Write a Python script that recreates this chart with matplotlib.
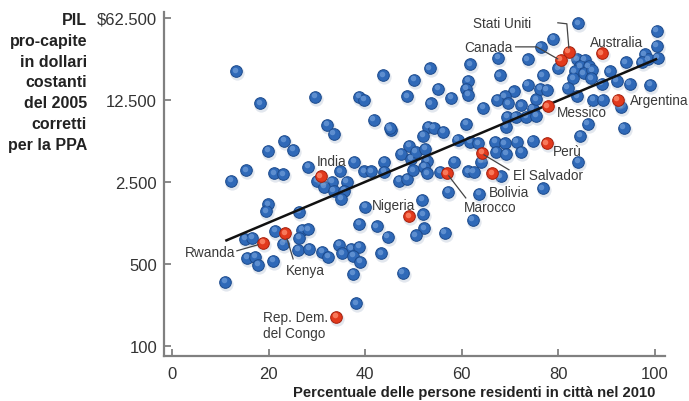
import matplotlib.pyplot as plt
from matplotlib.ticker import FixedLocator, NullLocator
from matplotlib.transforms import offset_copy

plt.rcParams['font.family'] = ['Liberation Sans', 'DejaVu Sans']

# urban share (%) and GDP per capita (2005 PPP $) for the unlabelled countries
blue_urban = [
    13.3, 18.2, 29.6, 32.1, 33.5, 23.2, 25.1, 19.9, 28.2, 15.3,
    21.1, 23.0, 12.2, 34.8, 30.0, 33.1, 36.2, 31.5, 33.5, 35.6,
    35.0, 37.7, 39.8, 41.2, 43.9, 43.9, 45.3, 49.1, 47.4, 49.5,
    50.5, 47.0, 48.7, 43.7, 50.1, 38.7, 39.8, 48.7, 41.8, 45.1,
    53.4, 61.7, 67.5, 73.7, 76.4, 78.9, 84.1, 100.4, 61.3, 60.9,
    61.3, 55.1, 57.8, 53.6, 67.9, 76.8, 64.4, 73.7, 70.8, 68.9,
    67.3, 69.6, 72.3, 74.7, 75.4, 76.2, 69.4, 71.2, 73.3, 75.4,
    69.2, 60.9, 53.0, 54.2, 56.1, 52.0, 59.2, 61.7, 63.4, 66.9,
    68.9, 71.4, 74.7, 52.4, 67.1, 69.2, 72.3, 64.0, 84.1, 58.4,
    52.8, 49.9, 52.2, 52.8, 55.5, 61.3, 62.5, 68.1, 57.2, 63.6,
    76.8, 51.8, 52.0, 52.2, 50.5, 56.5, 62.3,
    40.0, 38.7, 42.4, 44.7, 34.6, 37.1, 38.7, 35.2, 37.5, 38.9,
    43.3, 37.5, 47.8, 38.1, 26.9, 28.2, 26.3, 26.1, 28.4, 31.1, 32.3, 26.3,
    19.9, 19.5, 21.3, 15.1, 16.6, 23.0, 15.5, 17.2, 17.8, 20.9, 11.0,
    83.9, 85.5, 84.5, 86.3, 83.4, 85.3, 87.0, 86.8, 83.1, 80.0,
    94.0, 90.7, 92.1, 89.0, 94.8, 99.0, 77.6, 82.0, 83.9, 87.2,
    89.2, 93.0, 86.1, 93.6, 84.5, 100.4, 97.9, 98.6, 100.6, 97.3,
]
blue_gdp = [
    22000, 11700, 13300, 7650, 6410, 5590, 4690, 4600, 3360, 3160,
    2980, 2920, 2550, 3100, 2550, 2500, 2500, 2270, 2100, 2100,
    1790, 3710, 3100, 3100, 3710, 3040, 6940, 5070, 4340, 3930,
    4510, 2550, 2650, 20400, 18500, 13300, 12500, 13500, 8450, 7220,
    23400, 25300, 28500, 27900, 35400, 41400, 56600, 48400, 18200, 15500,
    13800, 15500, 13000, 11700, 20400, 20400, 10700, 16800, 14900, 13500,
    12500, 11700, 11300, 10500, 12700, 15500, 8950, 8950, 8950, 9130,
    7360, 7810, 7360, 7220, 6670, 6170, 5700, 5480, 5370, 5480,
    5370, 5480, 5590, 4780, 4510, 4340, 4510, 3710, 3710, 3710,
    3780, 3160, 3360, 2980, 3040, 3100, 3040, 2810, 2060, 1980,
    2220, 1760, 1330, 1010, 880, 920, 1190,
    1530, 1100, 1050, 850, 726, 671, 700, 620, 585, 520,
    620, 411, 419, 232, 974, 993, 833, 658, 671, 633, 574, 1390,
    1620, 1410, 955, 817, 833, 741, 563, 574, 490, 530, 351,
    27900, 27400, 24300, 24300, 22000, 21200, 22500, 19200, 19200, 23400,
    26300, 22000, 18200, 17100, 17100, 16800, 15200, 15900, 13500, 12500,
    12500, 10900, 7810, 7220, 6170, 36100, 30800, 27900, 28500, 26300,
]

countries = ['Stati Uniti', 'Canada', 'Australia', 'Argentina', 'Messico', 'Perù',
             'El Salvador', 'Bolivia', 'Marocco', 'India', 'Nigeria', 'Kenya',
             'Rwanda', 'Rep. Dem.\ndel Congo']
red_urban = [82.2, 80.5, 89.0, 92.3, 77.8, 77.6, 64.2, 66.3, 56.9, 30.8, 49.1, 23.4, 18.8, 34.0]
red_gdp = [32100, 27400, 31400, 12500, 11100, 5370, 4420, 2980, 2980, 2810, 1280, 918, 756, 177]

# fitted trend (log-linear)
trend_urban = [11, 100.5]
trend_gdp = [785, 28000]

yticks = [100, 500, 2500, 12500, 62500]
ytick_labels = ['100', '500', '2.500', '12.500', '$62.500']
xticks = [0, 20, 40, 60, 80, 100]

# label offset in pixels, alignment, leader line vertices (pixels from the dot)
placement = {
    'Stati Uniti': (-38, 29, 'right', [(-11, 29), (-2, 28), (0, 4)]),
    'Canada': (-48, 13, 'right', [(-45, 13), (-24, 13), (-3, 1)]),
    'Australia': (-12, 11, 'left', None),
    'Argentina': (12, 0, 'left', None),
    'Messico': (9, -6, 'left', None),
    'Perù': (6, -8, 'left', None),
    'El Salvador': (31, -22, 'left', [(2, -2), (27, -17)]),
    'Bolivia': (-3, -19, 'left', None),
    'Marocco': (17, -34, 'left', [(2, -3), (19, -25)]),
    'India': (-4, 15, 'left', None),
    'Nigeria': (-37, 11, 'left', None),
    'Kenya': (1, -37, 'left', [(2, -6), (8, -26)]),
    'Rwanda': (-28, -9, 'right', [(-26, -8), (-5, -2)]),
    'Rep. Dem.\ndel Congo': (-73, -8, 'left', None),
}

fig = plt.figure(figsize=(6.89, 4.02), dpi=100)
ax = fig.add_axes([0.238, 0.112, 0.727, 0.856])
ax.set_yscale('log')
ax.set_xlim(-1.7, 102.1)
ax.set_ylim(82, 70300)


def spheres(x, y, face, edge, light, z):
    shadow = offset_copy(ax.transData, fig=fig, x=1, y=-2, units='dots')
    ax.scatter(x, y, s=105, color='#9fb0c8', alpha=0.3, lw=0, transform=shadow, zorder=z)
    ax.scatter(x, y, s=70, facecolor=face, edgecolor=edge, lw=0.7, zorder=z + 0.1)
    shine = offset_copy(ax.transData, fig=fig, x=-1.4, y=1.4, units='dots')
    ax.scatter(x, y, s=16, color=light, lw=0, alpha=0.75, transform=shine, zorder=z + 0.2)


spheres(blue_urban, blue_gdp, '#2f69b8', '#1c4a8c', '#6d9bd8', 2)
ax.plot(trend_urban, trend_gdp, color='#111111', lw=1.8, zorder=3, solid_capstyle='butt')
spheres(red_urban, red_gdp, '#e2391c', '#a51f0c', '#ff8f70', 4)

inv = ax.transData.inverted()
for name, x, y in zip(countries, red_urban, red_gdp):
    dx, dy, ha, pts = placement[name]
    ax.annotate(name, (x, y), xytext=(dx, dy), textcoords='offset pixels',
                ha=ha, va='center', fontsize=9.8, color='#3a3a3a', zorder=5)
    if pts:
        px, py = ax.transData.transform((x, y))
        line = inv.transform([(px + a, py + b) for a, b in pts])
        ax.plot(line[:, 0], line[:, 1], color='#444444', lw=0.9, zorder=5)

for side in ['top', 'right']:
    ax.spines[side].set_visible(False)
for side in ['left', 'bottom']:
    ax.spines[side].set_color('#808080')
    ax.spines[side].set_linewidth(1.6)

ax.yaxis.set_major_locator(FixedLocator(yticks))
ax.yaxis.set_minor_locator(NullLocator())
ax.set_yticklabels(ytick_labels)
ax.set_xticks(xticks)
ax.tick_params(direction='in', length=5, width=1.3, color='#808080',
               labelsize=12, labelcolor='#333333')
ax.tick_params(axis='y', pad=5)
ax.tick_params(axis='x', pad=7)

fig.text(87 / 689, 1 - 13 / 402,
         'PIL\npro-capite\nin dollari\ncostanti\ndel 2005\ncorretti\nper la PPA',
         ha='right', va='top', fontsize=11.5, fontweight='bold', color='#222222',
         linespacing=1.48)
fig.text(655 / 689, 1 - 393 / 402, 'Percentuale delle persone residenti in città nel 2010',
         ha='right', va='center', fontsize=10.6, fontweight='bold', color='#222222')

fig.savefig('out.png', dpi=100)
